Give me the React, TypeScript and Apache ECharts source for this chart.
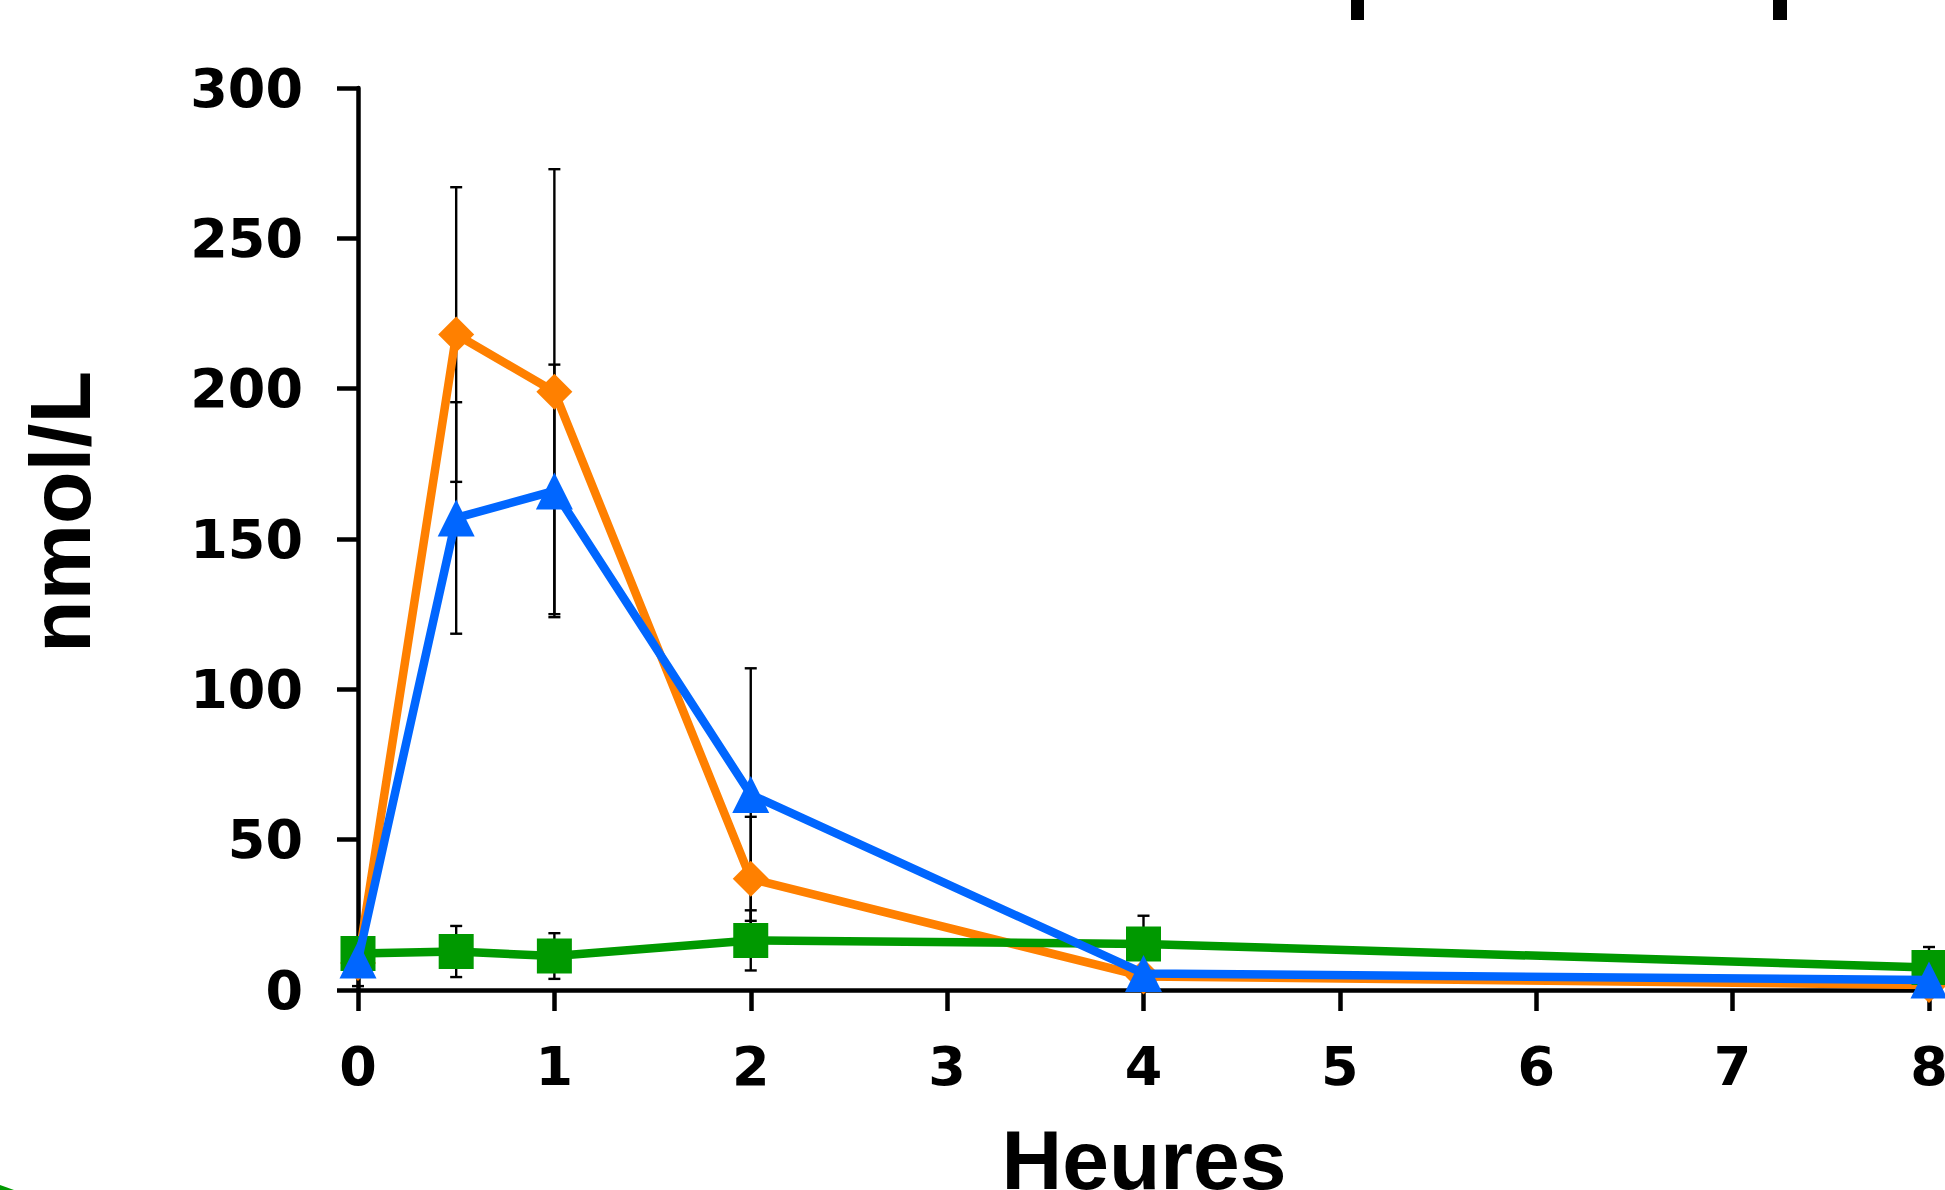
import React, { useEffect, useRef } from "react";
import * as echarts from "echarts";

// Sampling times (hours)
const hours = [0, 0.5, 1, 2, 4, 8];
const xTickValues = [0, 1, 2, 3, 4, 5, 6, 7, 8];
const yTickValues = [0, 50, 100, 150, 200, 250, 300];

// Series means (nmol/L)
const orangeMean = [9, 218, 199, 37, 4.5, 1.7];
const blueMean = [10, 157, 166, 65, 5.5, 3.3];
const greenMean = [12.1, 12.8, 11.3, 16.5, 15.3, 7.5];

// Standard deviations
const orangeSd = [7.7, 49, 74, 20.6, 1, 0.5];
const blueSd = [4.7, 38.5, 42, 42, 1, 0.5];
const greenSd = [2, 8.5, 7.6, 10, 9.4, 6.8];

const xTitle = "Heures";
const yTitle = "nmol/L";

const ORANGE = "#FF8000";
const BLUE = "#0066FF";
const GREEN = "#009900";

function errData(mean: number[], sd: number[]) {
  return hours.map((h, i) => [h, mean[i] - sd[i], mean[i] + sd[i]]);
}
function lineData(mean: number[]) {
  return hours.map((h, i) => [h, mean[i]]);
}

function errSeries(name: string, mean: number[], sd: number[]) {
  return {
    type: "custom",
    name,
    z: 1,
    silent: true,
    data: errData(mean, sd),
    encode: { x: 0, y: [1, 2] },
    renderItem: (params: any, api: any) => {
      const x = api.value(0);
      const lo = api.coord([x, api.value(1)]);
      const hi = api.coord([x, api.value(2)]);
      const hw = 6;
      const style = { stroke: "#000", lineWidth: 2.4, fill: null };
      return {
        type: "group",
        children: [
          { type: "line", shape: { x1: hi[0], y1: hi[1], x2: lo[0], y2: lo[1] }, style },
          { type: "line", shape: { x1: hi[0] - hw, y1: hi[1], x2: hi[0] + hw, y2: hi[1] }, style },
          { type: "line", shape: { x1: lo[0] - hw, y1: lo[1], x2: lo[0] + hw, y2: lo[1] }, style },
        ],
      };
    },
  };
}

function lineSeries(name: string, mean: number[], color: string, symbol: string, size: number, z: number) {
  return {
    type: "line",
    name,
    z,
    data: lineData(mean),
    symbol,
    symbolSize: size,
    showAllSymbol: true,
    lineStyle: { color, width: 8.5 },
    itemStyle: { color, borderWidth: 0 },
  };
}

export default function App() {
  const ref = useRef<HTMLDivElement>(null);
  useEffect(() => {
    if (!ref.current) return;
    const chart = echarts.init(ref.current, undefined, { renderer: "svg" });
    const tickFont = {
      fontFamily: "DejaVu Sans",
      fontWeight: "bold" as const,
      fontSize: 54,
      color: "#000",
    };
    chart.setOption({
      animation: false,
      backgroundColor: "#fff",
      grid: {
        left: 358,
        right: 16,
        top: 88,
        bottom: 200,
        containLabel: false,
        outerBoundsMode: "none",
      },
      xAxis: {
        type: "value",
        min: 0,
        max: 8,
        interval: 1,
        axisLine: { show: true, onZero: false, lineStyle: { color: "#000", width: 4.5 } },
        axisTick: { show: true, length: 21, lineStyle: { color: "#000", width: 4.5 } },
        splitLine: { show: false },
        axisLabel: {
          ...tickFont,
          margin: 49,
          formatter: (v: number) => (xTickValues.includes(v) ? String(v) : ""),
        },
      },
      yAxis: {
        type: "value",
        min: 0,
        max: 300,
        interval: 50,
        axisLine: { show: true, onZero: false, lineStyle: { color: "#000", width: 4.5 } },
        axisTick: { show: true, length: 21, lineStyle: { color: "#000", width: 4.5 } },
        splitLine: { show: false },
        axisLabel: {
          ...tickFont,
          margin: 55,
          formatter: (v: number) => (yTickValues.includes(v) ? String(v) : ""),
        },
      },
      series: [
        errSeries("orangeErr", orangeMean, orangeSd),
        errSeries("blueErr", blueMean, blueSd),
        errSeries("greenErr", greenMean, greenSd),
        lineSeries("orange", orangeMean, ORANGE, "diamond", 36, 3),
        lineSeries("green", greenMean, GREEN, "rect", 35, 4),
        lineSeries("blue", blueMean, BLUE, "triangle", 37, 5),
      ],
      graphic: [
        {
          type: "text",
          x: 60,
          y: 512,
          rotation: Math.PI / 2,
          style: {
            text: yTitle,
            fontFamily: "Liberation Sans",
            fontWeight: "bold",
            fontSize: 86,
            fill: "#000",
            align: "center",
            verticalAlign: "middle",
          },
        },
        {
          type: "text",
          x: 1144,
          y: 1160,
          style: {
            text: xTitle,
            fontFamily: "Liberation Sans",
            fontWeight: "bold",
            fontSize: 84,
            fill: "#000",
            align: "center",
            verticalAlign: "middle",
          },
        },
        { type: "rect", shape: { x: 1351, y: 0, width: 13, height: 20 }, style: { fill: "#000" } },
        { type: "rect", shape: { x: 1773, y: 0, width: 14, height: 20 }, style: { fill: "#000" } },
        {
          type: "polygon",
          shape: { points: [[0, 1185], [14, 1190], [0, 1190]] },
          style: { fill: GREEN },
        },
      ],
    });
    return () => chart.dispose();
  }, []);
  return (
    <div
      ref={ref}
      style={{ position: "absolute", left: 0, top: 0, width: 1945, height: 1190 }}
    />
  );
}
